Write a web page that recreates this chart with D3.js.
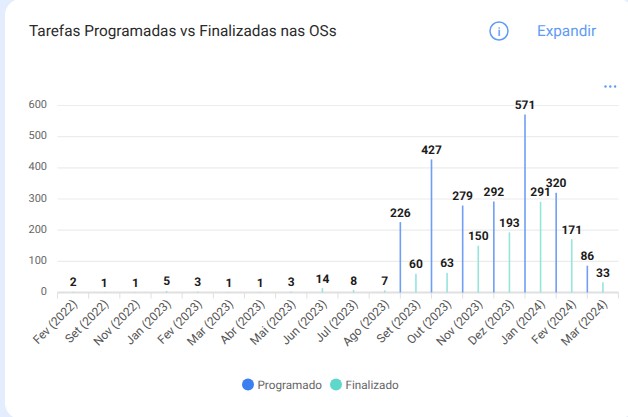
<!DOCTYPE html>
<html>
<head>
<meta charset="utf-8">
<script src="https://cdn.jsdelivr.net/npm/d3@7"></script>
<style>
  html, body { margin: 0; padding: 0; background: #e4edfd; overflow: hidden; }
  text { font-family: Roboto, sans-serif; text-rendering: geometricPrecision; }
</style>
</head>
<body>
<div id="chart"></div>
<script>
const categories = ["Fev (2022)", "Set (2022)", "Nov (2022)", "Jan (2023)", "Fev (2023)", "Mar (2023)",
    "Abr (2023)", "Mai (2023)", "Jun (2023)", "Jul (2023)", "Ago (2023)", "Set (2023)",
    "Out (2023)", "Nov (2023)", "Dez (2023)", "Jan (2024)", "Fev (2024)", "Mar (2024)"];
const programado = [null, null, null, null, null, null, null, null, null, null, null, 226, 427, 279, 292, 571, 320, 86];
const finalizado = [2, 1, 1, 5, 3, 1, 1, 3, 14, 8, 7, 60, 63, 150, 193, 291, 171, 33];
const yTicks = [0, 100, 200, 300, 400, 500, 600];
const seriesNames = ["Programado", "Finalizado"];
const seriesColors = ["#3b7ff0", "#5fd8cc"];
const barColors = ["#6f9ff5", "#97e4dc"];
const menuDots = [0, 1, 2];

const height = 417,
    width = 628,
    margin = ({ top: 105.5, right: 9.5, bottom: 124.5, left: 57.5 });

const svg = d3.select("#chart")
    .append("svg")
    .attr("width", width)
    .attr("height", height)
    .style("display", "block");

// card
svg.append("rect")
    .attr("x", 5)
    .attr("y", -1)
    .attr("width", 629)
    .attr("height", 420)
    .attr("rx", 16)
    .attr("fill", "#fff");

svg.append("text")
    .attr("x", 29)
    .attr("y", 36)
    .attr("font-size", 15.35)
    .attr("fill", "#2b2b2b")
    .text("Tarefas Programadas vs Finalizadas nas OSs");

// info icon
svg.append("circle")
    .attr("cx", 499)
    .attr("cy", 31)
    .attr("r", 9)
    .attr("fill", "none")
    .attr("stroke", "#5f9cf5")
    .attr("stroke-width", 1.5);
svg.append("text")
    .attr("x", 499)
    .attr("y", 35.5)
    .attr("text-anchor", "middle")
    .attr("font-size", 12)
    .attr("font-weight", 500)
    .attr("fill", "#5f9cf5")
    .text("i");

svg.append("text")
    .attr("x", 537)
    .attr("y", 36)
    .attr("font-size", 15.3)
    .attr("fill", "#5f9cf5")
    .text("Expandir");

// the three dots menu
svg.append("g")
    .selectAll("circle")
    .data(menuDots)
    .join("circle")
    .attr("cx", d => 605.5 + d * 4.8)
    .attr("cy", 86.5)
    .attr("r", 1.2)
    .attr("fill", "#5f9cf5");

let x = d3.scaleBand()
    .domain(categories)
    .range([margin.left, width - margin.right]);

let y = d3.scaleLinear()
    .domain([0, 600])
    .range([height - margin.bottom, margin.top]);

// grid
svg.append("g")
    .selectAll("line")
    .data(yTicks.filter(d => d > 0))
    .join("line")
    .attr("x1", margin.left)
    .attr("x2", width - margin.right)
    .attr("y1", d => y(d))
    .attr("y2", d => y(d))
    .attr("stroke", "#ececec")
    .attr("stroke-width", 1.2);

// y labels
svg.append("g")
    .selectAll("text")
    .data(yTicks)
    .join("text")
    .attr("x", 47)
    .attr("y", d => y(d) - 1)
    .attr("dy", "0.32em")
    .attr("text-anchor", "end")
    .attr("font-size", 11)
    .attr("fill", "#666")
    .text(d => d);

// x axis
const xAxis = svg.append("g")
    .attr("transform", `translate(0,${height - margin.bottom})`);
xAxis.append("line")
    .attr("x1", margin.left)
    .attr("x2", width - margin.right)
    .attr("stroke", "#e0e0e0")
    .attr("stroke-width", 1.8);
xAxis.selectAll(".tick")
    .data(categories.concat([null]))
    .join("line")
    .attr("class", "tick")
    .attr("x1", d => d === null ? width - margin.right : x(d))
    .attr("x2", d => d === null ? width - margin.right : x(d))
    .attr("y2", 6)
    .attr("stroke", "#e0e0e0");
xAxis.selectAll(".lab")
    .data(categories)
    .join("text")
    .attr("class", "lab")
    .attr("text-anchor", "end")
    .attr("font-size", 12)
    .attr("fill", "#555")
    .attr("transform", d => `translate(${x(d) + x.bandwidth() / 2 + 5},12) rotate(-45)`)
    .text(d => d);

// programado sits on the band's left edge, finalizado on its center
const programadoBars = categories.map((c, i) => ({ c, v: programado[i], px: x(c) }))
    .filter(d => d.v !== null);
const finalizadoBars = categories.map((c, i) => ({ c, v: finalizado[i], px: x(c) + x.bandwidth() / 2 }));

svg.append("g")
    .selectAll("rect")
    .data(programadoBars)
    .join("rect")
    .attr("x", d => d.px - 0.8)
    .attr("width", 1.6)
    .attr("y", d => y(d.v))
    .attr("height", d => y(0) - y(d.v))
    .attr("fill", barColors[0]);

svg.append("g")
    .selectAll("rect")
    .data(finalizadoBars)
    .join("rect")
    .attr("x", d => d.px - 0.8)
    .attr("width", 1.6)
    .attr("y", d => y(d.v))
    .attr("height", d => y(0) - y(d.v))
    .attr("fill", barColors[1]);

svg.append("g")
    .selectAll("text")
    .data(programadoBars.concat(finalizadoBars))
    .join("text")
    .attr("x", d => d.px)
    .attr("y", d => y(d.v) - 5.5)
    .attr("text-anchor", "middle")
    .attr("font-size", 12)
    .attr("font-weight", 700)
    .attr("fill", "#1c1c1c")
    .text(d => d.v);

// legend
const legendX = [248, 336];
const legend = svg.append("g")
    .selectAll("g")
    .data(seriesNames)
    .join("g")
    .attr("transform", (d, i) => `translate(${legendX[i]},384.5)`);
legend.append("circle")
    .attr("r", 6)
    .attr("fill", (d, i) => seriesColors[i]);
legend.append("text")
    .attr("x", 9.5)
    .attr("dy", "0.35em")
    .attr("font-size", 11.7)
    .attr("fill", "#666")
    .text(d => d);
</script>
</body>
</html>
